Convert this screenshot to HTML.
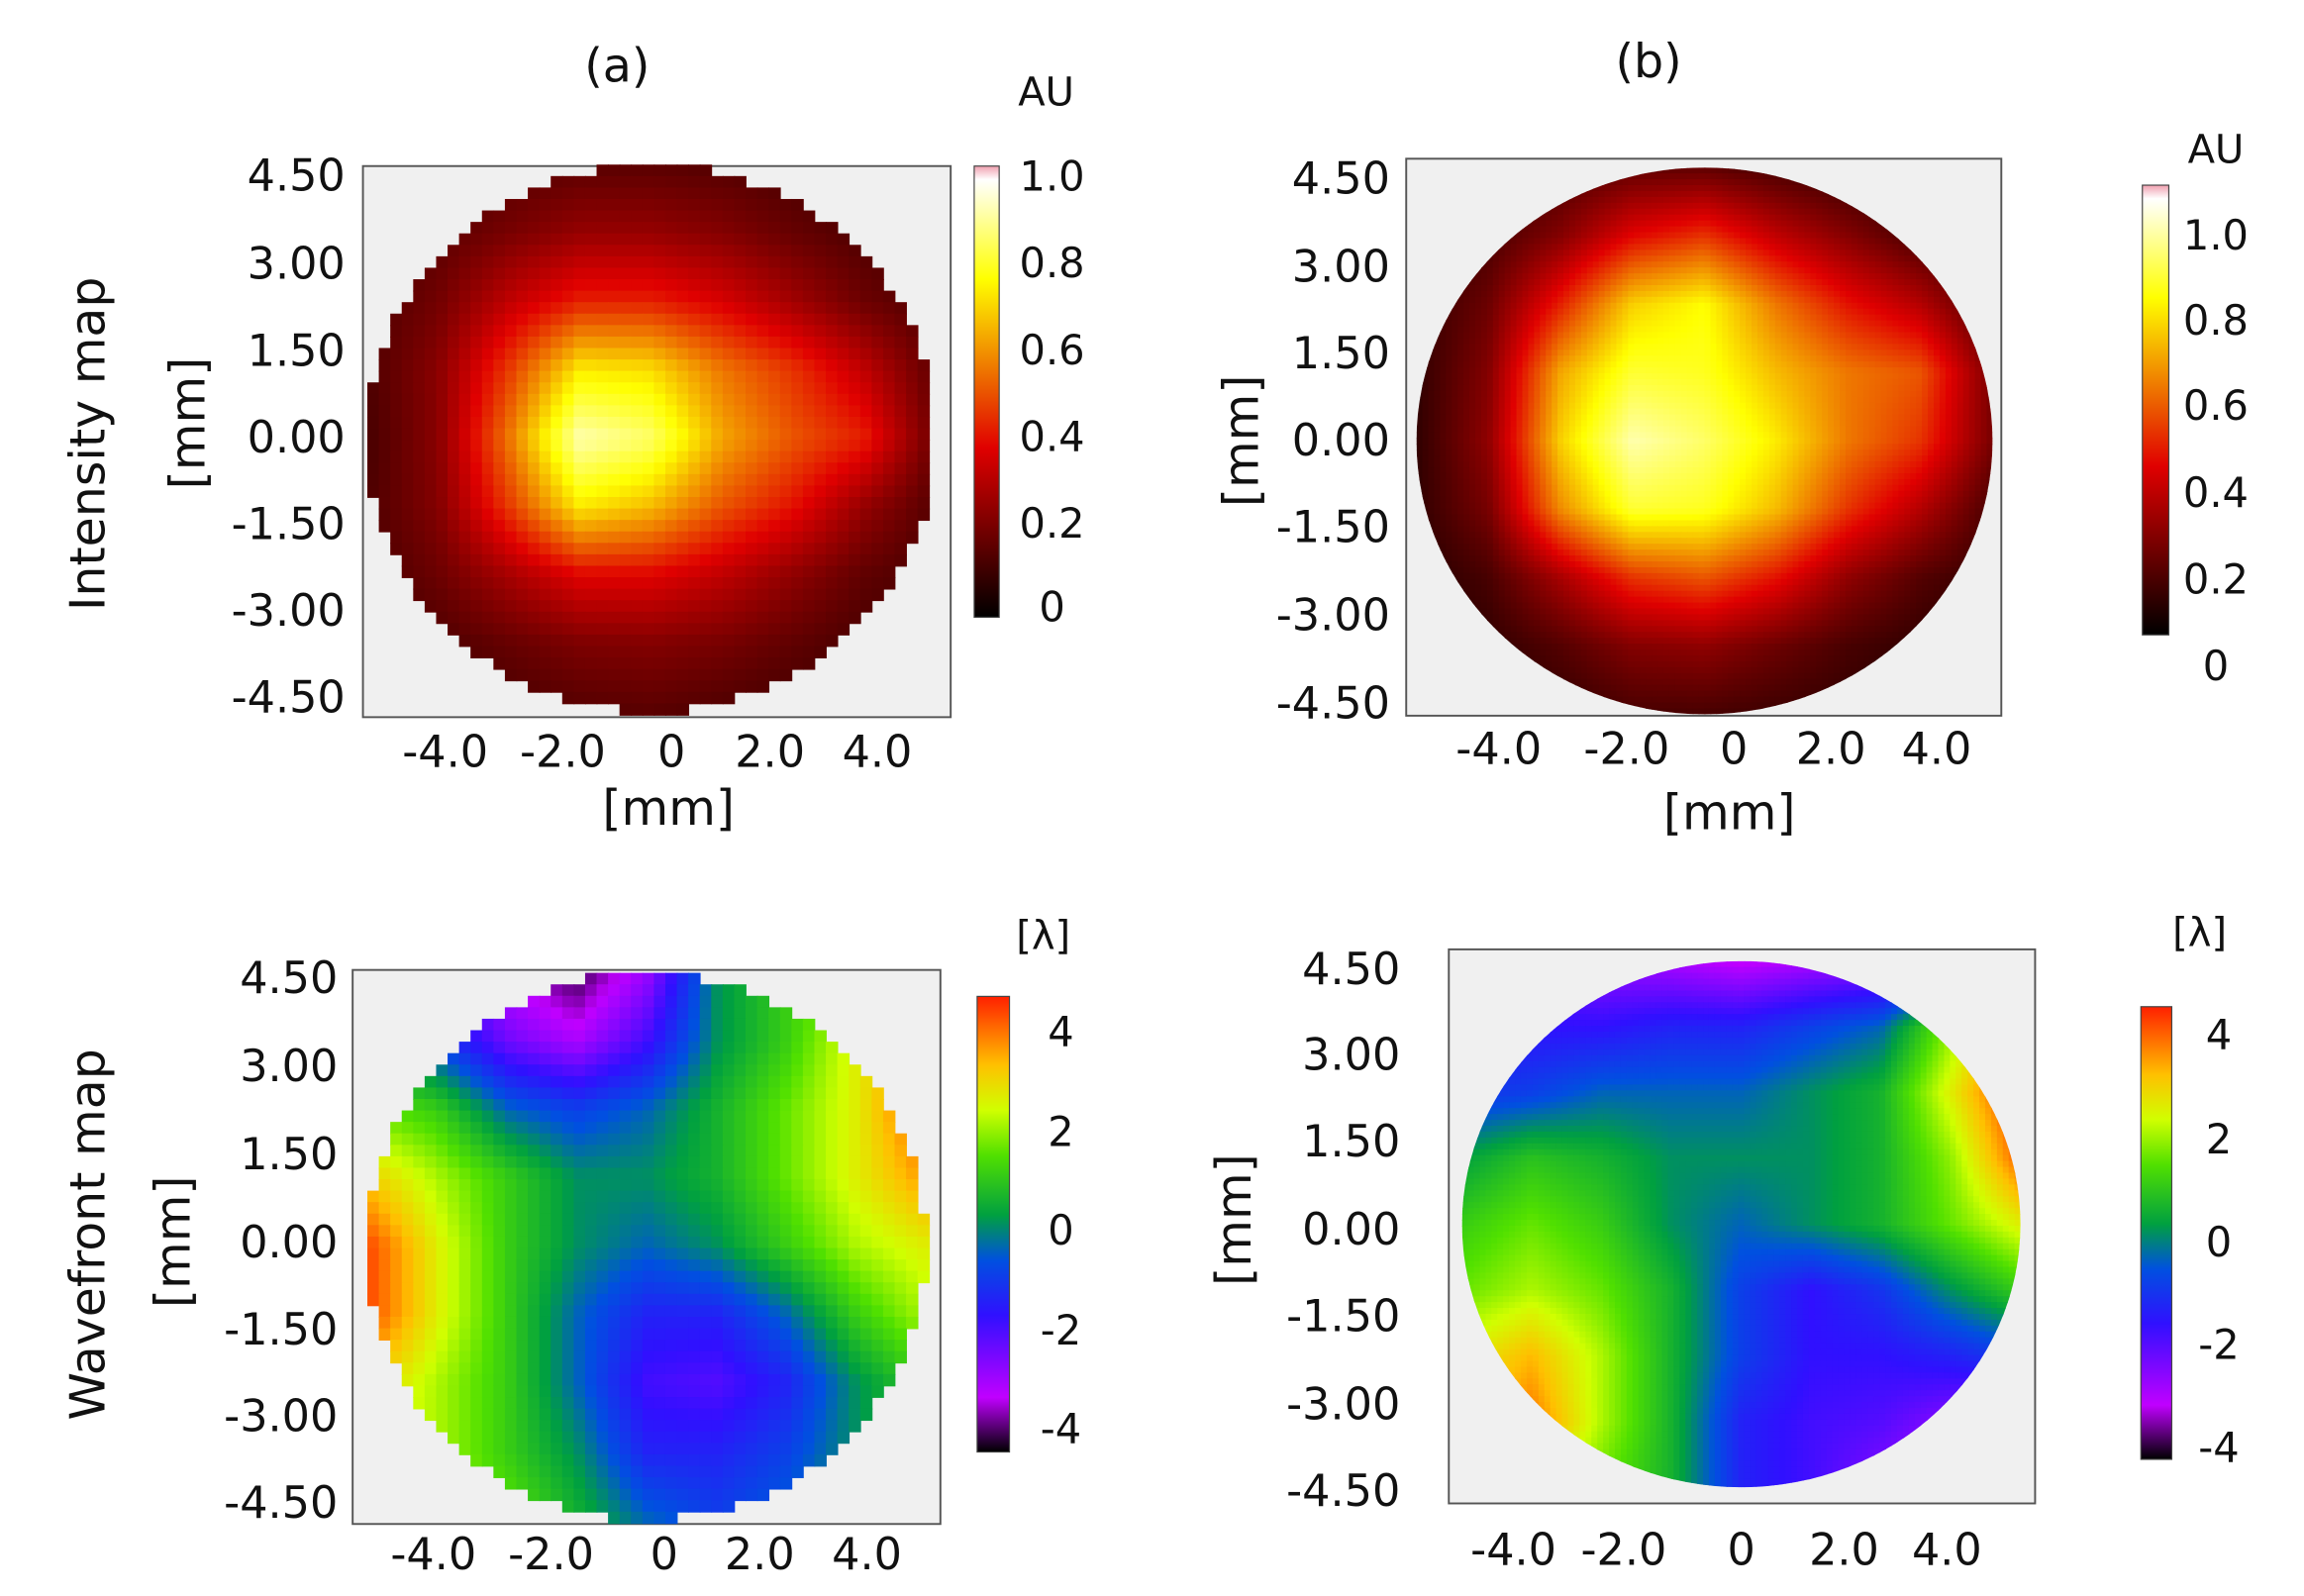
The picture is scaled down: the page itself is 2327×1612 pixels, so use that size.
<!DOCTYPE html>
<html><head><meta charset="utf-8">
<style>
html,body{margin:0;padding:0;background:#fff;}
svg{display:block;font-family:"DejaVu Sans","Liberation Sans",sans-serif;}
</style></head>
<body>
<svg id="fig" width="2327" height="1612" viewBox="0 0 1568 1086" preserveAspectRatio="none" xmlns="http://www.w3.org/2000/svg">
<defs>
<linearGradient id="hotGrad" x1="0" y1="1" x2="0" y2="0">
<stop offset="0" stop-color="#000"/><stop offset="0.375" stop-color="#e00000"/><stop offset="0.75" stop-color="#ffff00"/><stop offset="0.97" stop-color="#ffffff"/><stop offset="1" stop-color="#f0a0b0"/>
</linearGradient>
<linearGradient id="wfGrad" x1="0" y1="1" x2="0" y2="0">
<stop offset="0" stop-color="#000"/><stop offset="0.12" stop-color="#c000ff"/><stop offset="0.3" stop-color="#3010ff"/><stop offset="0.42" stop-color="#0050e0"/><stop offset="0.52" stop-color="#00a040"/><stop offset="0.65" stop-color="#50e000"/><stop offset="0.75" stop-color="#d0ff00"/><stop offset="0.85" stop-color="#ffc000"/><stop offset="1" stop-color="#ff2000"/>
</linearGradient>
<clipPath id="clipB1"><ellipse cx="1160" cy="300" rx="196" ry="186"/></clipPath>
<clipPath id="clipB2"><ellipse cx="1185" cy="833" rx="190" ry="179"/></clipPath>
</defs>
<g id="root"></g>
</svg>
<script>
// ---- data (rows from y=+4.5 at top to y=-4.5 at bottom, cols x=-4.5..4.5) ----
const xTicksA = ["-4.0","-2.0","0","2.0","4.0"];
const yTicks = ["4.50","3.00","1.50","0.00","-1.50","-3.00","-4.50"];
const auTicks = ["1.0","0.8","0.6","0.4","0.2","0"];
const lambdaTicks = ["4","2","0","-2","-4"];
const intensityA = [
[.10,.12,.14,.15,.15,.14,.12,.10,.10],
[.12,.15,.20,.25,.25,.22,.17,.13,.11],
[.13,.19,.32,.42,.42,.36,.27,.18,.13],
[.13,.23,.46,.72,.70,.55,.45,.32,.16],
[.12,.23,.55,.92,.85,.62,.50,.42,.18],
[.13,.22,.46,.72,.65,.50,.40,.25,.14],
[.12,.18,.28,.38,.38,.32,.24,.16,.12],
[.11,.13,.17,.21,.22,.20,.16,.12,.10],
[.10,.11,.12,.14,.15,.13,.11,.10,.09]];
const intensityB = [
[.06,.08,.12,.16,.16,.12,.08,.06,.06],
[.08,.12,.22,.38,.45,.32,.22,.12,.08],
[.08,.18,.42,.68,.75,.55,.40,.30,.12],
[.08,.22,.62,.80,.78,.65,.55,.50,.20],
[.08,.24,.68,.92,.85,.72,.55,.45,.20],
[.08,.20,.58,.80,.78,.65,.45,.30,.12],
[.06,.12,.28,.45,.50,.40,.24,.14,.08],
[.05,.08,.14,.22,.24,.18,.12,.08,.06],
[.05,.06,.08,.12,.12,.10,.08,.06,.05]];
const wavefrontA = [
[-1,-2,-3.5,-4.2,-3,0,1,1.5,2],
[0,-1,-2.5,-3.2,-2,0,1,2.5,3.8],
[1.5,1,-0.5,-1,-0.5,0.5,1.5,2.5,4.2],
[3,2,1,0,0,0.5,1.5,2.5,3.5],
[4.2,2.5,1,0,-0.5,0,1,2,2.5],
[4.2,2.5,1,-0.5,-1.5,-1.5,-0.5,1,2],
[3,2,1,-0.5,-2,-2.2,-1.5,0,1],
[2.5,2,1,0,-1.5,-1.5,-1,0,1],
[2,2,1.5,0.5,-0.5,-1,-0.5,0.5,1]];
const wavefrontB = [
[-2,-2.5,-3,-3.2,-3.5,-3.2,-3,-2.5,-2],
[-1.8,-1.8,-1.8,-1.5,-1.5,-1,-0.5,1.8,3.8],
[-1.2,-1,-0.5,-0.5,-0.5,0,0.5,2.5,4.5],
[0.2,0.8,0.5,0,0,0,0.5,1.8,4],
[1,1.5,1,0,-0.5,0,0.5,1.5,2.5],
[1.5,2,1.5,0.5,-1,-1.8,-1.2,0,1],
[2.5,3.2,2,0.5,-1,-1.8,-1.8,-1.5,-1],
[3,3.8,2,0.5,-1.5,-2,-2.2,-2.8,-3.5],
[2,2.5,1.5,0.5,-1.5,-2,-2.8,-3.5,-4]];

const NS="http://www.w3.org/2000/svg";
const root=document.getElementById('root');
function mk(tag,attrs,parent){const e=document.createElementNS(NS,tag);for(const k in attrs)e.setAttribute(k,attrs[k]);(parent||root).appendChild(e);return e;}
function txt(x,y,s,size,anchor,parent,rot){const t=mk('text',{x:x,y:y,'font-size':size,'text-anchor':anchor||'middle','dominant-baseline':'central',fill:'#111'},parent);if(rot)t.setAttribute('transform','rotate(-90 '+x+' '+y+')');t.textContent=s;return t;}
function lerp(a,b,t){return a+(b-a)*t;}
function sample(g,u,v){
  const n=g.length-1;const fx=Math.min(Math.max(u*n,0),n-1e-6),fy=Math.min(Math.max(v*n,0),n-1e-6);
  const i=Math.floor(fy),j=Math.floor(fx),tx=fx-j,ty=fy-i;
  return lerp(lerp(g[i][j],g[i][j+1],tx),lerp(g[i+1][j],g[i+1][j+1],tx),ty);}
function interp(stops,t){t=Math.max(0,Math.min(1,t));for(let i=1;i<stops.length;i++){if(t<=stops[i][0]){const a=stops[i-1],b=stops[i],f=(t-a[0])/(b[0]-a[0]||1);return 'rgb('+[1,2,3].map(k=>Math.round(lerp(a[k],b[k],f))).join(',')+')';}}const l=stops[stops.length-1];return 'rgb('+l[1]+','+l[2]+','+l[3]+')';}
const hot=[[0,0,0,0],[0.375,224,0,0],[0.75,255,255,0],[1,255,255,255]];
const wf=[[0,0,0,0],[0.12,192,0,255],[0.3,48,16,255],[0.42,0,80,224],[0.52,0,160,64],[0.65,80,224,0],[0.75,208,255,0],[0.85,255,192,0],[1,255,32,0]];
const hotColor=v=>interp(hot,v);
const wfColor=v=>interp(wf,(v+4.5)/9);

function panel(name,box,circ,grid,colorFn,cell,clip,xt,yt){
  const g=mk('g',{});
  
  
  const bg=mk('rect',{x:box[0],y:box[1],width:box[2]-box[0],height:box[3]-box[1],fill:'#f0f0f0',stroke:'#555','stroke-width':1.3},g);
  
  
  const cg=mk('g',clip?{'clip-path':'url(#'+clip+')'}:{},g);
  
  
  const [cx,cy,rx,ry]=circ;
  for(let y=cy-ry;y<cy+ry;y+=cell){for(let x=cx-rx;x<cx+rx;x+=cell){
    const mx=(x+cell/2-cx)/rx,my=(y+cell/2-cy)/ry;
    if(!clip && mx*mx+my*my>1)continue;
    if(clip && mx*mx+my*my>1.08)continue;
    const v=sample(grid,(mx+1)/2,(my+1)/2);
    const r=mk('rect',{x:x.toFixed(1),y:y.toFixed(1),width:cell+0.6,height:cell+0.6,fill:colorFn(v)},cg);
    
    
  }}
  yt.forEach((p,i)=>{const t=txt(p[0],p[1],yTicks[i],30,'end',g);});
  xt.forEach((p,i)=>{const t=txt(p[0],p[1],xTicksA[i],30,'middle',g);});
  return g;
}
function colorbar(name,x,y,w,h,grad,labels,lx,ly,title,tx,ty){
  const g=mk('g',{});
  
  
  const r=mk('rect',{x:x,y:y,width:w,height:h,fill:'url(#'+grad+')',stroke:'#444','stroke-width':0.8},g);
  
  
  labels.forEach((s,i)=>{const t=txt(lx,ly[i],s,28,'middle',g);});
  const t=txt(tx,ty,title,27,'middle',g);
  
  
}
panel('intensity-map-a',[247,113,647,488],[443,298,193,186],intensityA,hotColor,7.8,null,
 [[303,512],[383,512],[457,512],[524,512],[597,512]],
 [[235,120],[235,180],[235,239],[235,298],[235,357],[235,416],[235,475]]);
colorbar('colorbar-au-a',663,113,17,307,'hotGrad',["1.0","0.8","0.6","0.4","0.2","0"],716,[120,179,238,297,356,413],'AU',712,63);
panel('intensity-map-b',[957,108,1362,487],[1160,300,196,186],intensityB,hotColor,4,'clipB1',
 [[1020,510],[1107,510],[1180,510],[1246,510],[1318,510]],
 [[946,122],[946,182],[946,241],[946,300],[946,359],[946,419],[946,479]]);
colorbar('colorbar-au-b',1458,126,18,306,'hotGrad',["1.0","0.8","0.6","0.4","0.2","0"],1508,[160,218,276,335,394,453],'AU',1508,102);
panel('wavefront-map-a',[240,660,640,1037],[440,848,190,186],wavefrontA,wfColor,7.8,null,
 [[295,1058],[375,1058],[452,1058],[517,1058],[590,1058]],
 [[230,666],[230,726],[230,786],[230,846],[230,905],[230,964],[230,1023]]);
colorbar('colorbar-lambda-a',665,678,22,310,'wfGrad',lambdaTicks,722,[702,770,837,905,972],'[λ]',710,637);
panel('wavefront-map-b',[986,646,1385,1023],[1185,833,190,179],wavefrontB,wfColor,4,'clipB2',
 [[1030,1055],[1105,1055],[1185,1055],[1255,1055],[1325,1055]],
 [[953,660],[953,718],[953,777],[953,837],[953,896],[953,956],[953,1015]]);
colorbar('colorbar-lambda-b',1457,685,21,308,'wfGrad',lambdaTicks,1510,[704,775,845,915,985],'[λ]',1497,635);

let t;
t=txt(420,45,'(a)',32,'middle');
t=txt(1122,42,'(b)',32,'middle');
t=txt(60,302,'Intensity map',33,'middle',root,true);
t=txt(60,840,'Wavefront map',33,'middle',root,true);
t=txt(128,288,'[mm]',33,'middle',root,true);
t=txt(118,845,'[mm]',33,'middle',root,true);
t=txt(845,300,'[mm]',33,'middle',root,true);
t=txt(840,830,'[mm]',33,'middle',root,true);
t=txt(455,550,'[mm]',33,'middle');
t=txt(1177,553,'[mm]',33,'middle');
</script>
</body></html>
